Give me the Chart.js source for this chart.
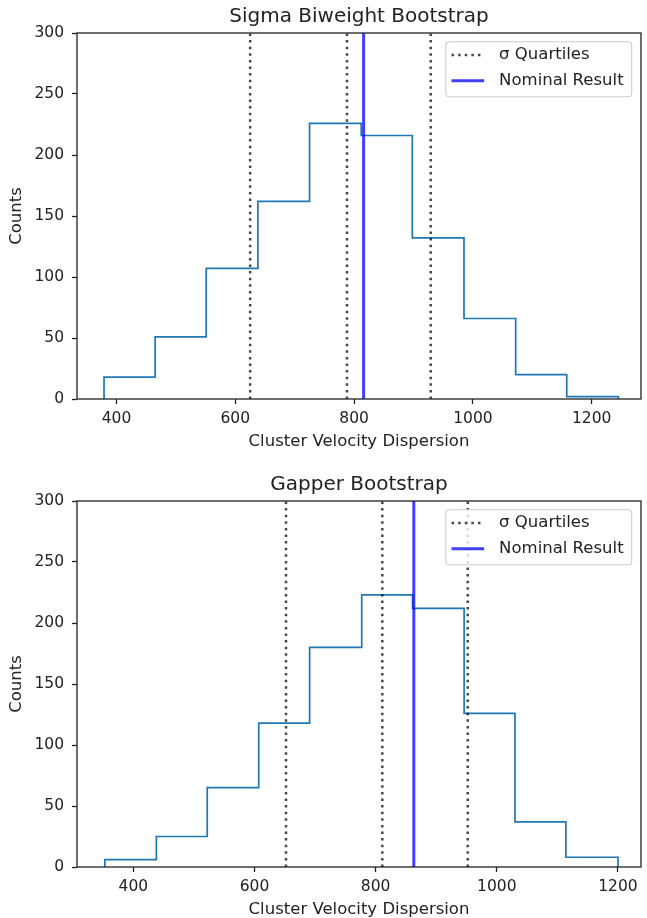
<!DOCTYPE html>
<html>
<head>
<meta charset="utf-8">
<script src="https://cdn.jsdelivr.net/npm/chart.js@4.4.1/dist/chart.umd.min.js"></script>
<style>
  html, body { margin: 0; padding: 0; background: #ffffff; overflow: hidden; width: 647px; height: 918px; }
  .panel { position: absolute; left: 0; width: 647px; height: 468px; }
  canvas { display: block; }
</style>
</head>
<body>
<div class="panel" style="top:0px"><canvas id="biweight" width="647" height="468"></canvas></div>
<div class="panel" style="top:468px"><canvas id="gapper" width="647" height="468"></canvas></div>
<script>
// Shared tick values
const countTicks = [0, 50, 100, 150, 200, 250, 300];
const velocityTicks = [400, 600, 800, 1000, 1200];

// Sigma biweight bootstrap: bin edges, bin counts, quartiles and nominal value
const biweightEdges = [379, 465, 551, 638, 725, 812, 898, 985, 1072, 1158, 1245];
const biweightCounts = [18, 51, 107, 162, 226, 216, 132, 66, 20, 2];
const biweightQuartiles = [625, 788, 929];
const biweightNominal = 816;
const biweightRange = [333.5, 1283];

// Gapper bootstrap
const gapperEdges = [353, 438, 522, 607, 691, 777, 861, 946, 1030, 1114, 1200];
const gapperCounts = [6, 25, 65, 118, 180, 223, 212, 126, 37, 8];
const gapperQuartiles = [652, 811, 952];
const gapperNominal = 863;
const gapperRange = [307, 1238];

const FONT = '"DejaVu Sans", "Liberation Sans", sans-serif';
const INK = '#222222';

// Outline of a step histogram: up at the first edge, across each bin, down at the last edge
function stepOutline(edges, counts) {
  const pts = [{ x: edges[0], y: 0 }];
  counts.forEach((c, i) => pts.push({ x: edges[i], y: c }));
  pts.push({ x: edges[edges.length - 1], y: 0 });
  return pts;
}

// Full-height vertical lines, separated by gaps
function verticalLines(xs) {
  const top = countTicks[countTicks.length - 1];
  const pts = [];
  xs.forEach(x => { pts.push({ x: x, y: 0 }, { x: x, y: top }, { x: x, y: null }); });
  return pts;
}

// Axes frame and an in-plot key, drawn on top of the data
const frameAndKey = {
  id: 'frameAndKey',
  afterDatasetsDraw(chart) {
    const { ctx, chartArea: a } = chart;
    ctx.save();
    ctx.strokeStyle = INK;
    ctx.lineWidth = 1.3;
    ctx.strokeRect(a.left, a.top, a.right - a.left, a.bottom - a.top);

    const items = chart.data.datasets.filter(d => d.label);
    ctx.font = '16.5px ' + FONT;
    const textW = Math.max(...items.map(d => ctx.measureText(d.label).width));
    const textX = 53.3, rowStart = 13.3, rowStep = 25.7;
    const boxW = textX + textW + 8.1;
    const boxH = 55;
    const x1 = a.right - 9.3 - boxW;
    const y1 = a.top + 8.7;

    ctx.beginPath();
    ctx.roundRect(x1, y1, boxW, boxH, 3.5);
    ctx.fillStyle = 'rgba(255,255,255,0.8)';
    ctx.fill();
    ctx.strokeStyle = '#cccccc';
    ctx.lineWidth = 1.1;
    ctx.stroke();

    items.forEach((d, i) => {
      const cy = y1 + rowStart + i * rowStep;
      ctx.save();
      ctx.beginPath();
      ctx.strokeStyle = d.borderColor;
      ctx.lineWidth = d.borderWidth;
      ctx.setLineDash(d.borderDash || []);
      ctx.lineCap = 'butt';
      ctx.moveTo(x1 + 5.7, cy);
      ctx.lineTo(x1 + 38.3, cy);
      ctx.stroke();
      ctx.restore();
      ctx.fillStyle = INK;
      ctx.textBaseline = 'middle';
      ctx.textAlign = 'left';
      ctx.fillText(d.label, x1 + textX, cy);
    });
    ctx.restore();
  }
};

function makePanel(canvasId, title, edges, counts, quartiles, nominal, range) {
  const tickStyle = {
    font: { family: FONT, size: 15.5 },
    color: INK,
    callback: v => String(v)
  };
  const gridStyle = {
    display: true, drawOnChartArea: false, drawTicks: true,
    tickLength: 5, tickColor: INK, tickWidth: 1.3
  };
  return new Chart(document.getElementById(canvasId), {
    type: 'line',
    data: {
      datasets: [
        {
          label: '',
          data: stepOutline(edges, counts),
          stepped: 'before',
          borderColor: '#1f77b4',
          borderWidth: 1.7,
          pointRadius: 0,
          fill: false,
          order: 3
        },
        {
          label: 'σ Quartiles',
          data: verticalLines(quartiles),
          borderColor: 'rgba(0,0,0,0.72)',
          borderWidth: 2.5,
          borderDash: [2.5, 4.1],
          pointRadius: 0,
          fill: false,
          spanGaps: false,
          order: 2
        },
        {
          label: 'Nominal Result',
          data: verticalLines([nominal]),
          borderColor: 'rgba(0,0,255,0.75)',
          borderWidth: 3,
          pointRadius: 0,
          fill: false,
          spanGaps: false,
          order: 1
        }
      ]
    },
    options: {
      responsive: false,
      devicePixelRatio: 1,
      animation: false,
      events: [],
      layout: { padding: { left: 0, right: 6, top: 0, bottom: 0 } },
      plugins: {
        legend: { display: false },
        tooltip: { enabled: false },
        title: {
          display: true,
          text: title,
          fullSize: false,
          color: INK,
          font: { family: FONT, size: 20, weight: 'normal' },
          padding: { top: 5, bottom: 4 }
        }
      },
      scales: {
        x: {
          type: 'linear',
          min: range[0],
          max: range[1],
          afterBuildTicks: s => { s.ticks = velocityTicks.map(v => ({ value: v })); },
          afterFit: s => { s.height = 69; },
          ticks: Object.assign({ padding: 6, maxRotation: 0, autoSkip: false }, tickStyle),
          grid: gridStyle,
          border: { display: false },
          title: {
            display: true,
            text: 'Cluster Velocity Dispersion',
            color: INK,
            font: { family: FONT, size: 16.5 },
            padding: { top: 0, bottom: 16 }
          }
        },
        y: {
          type: 'linear',
          min: countTicks[0],
          max: countTicks[countTicks.length - 1],
          afterBuildTicks: s => { s.ticks = countTicks.map(v => ({ value: v })); },
          afterFit: s => { s.width = 77; },
          ticks: Object.assign({ padding: 8 }, tickStyle),
          grid: gridStyle,
          border: { display: false },
          title: {
            display: true,
            text: 'Counts',
            color: INK,
            font: { family: FONT, size: 16.5 },
            padding: { top: 7, bottom: 0 }
          }
        }
      }
    },
    plugins: [frameAndKey]
  });
}

makePanel('biweight', 'Sigma Biweight Bootstrap', biweightEdges, biweightCounts,
          biweightQuartiles, biweightNominal, biweightRange);
makePanel('gapper', 'Gapper Bootstrap', gapperEdges, gapperCounts,
          gapperQuartiles, gapperNominal, gapperRange);
</script>
</body>
</html>
